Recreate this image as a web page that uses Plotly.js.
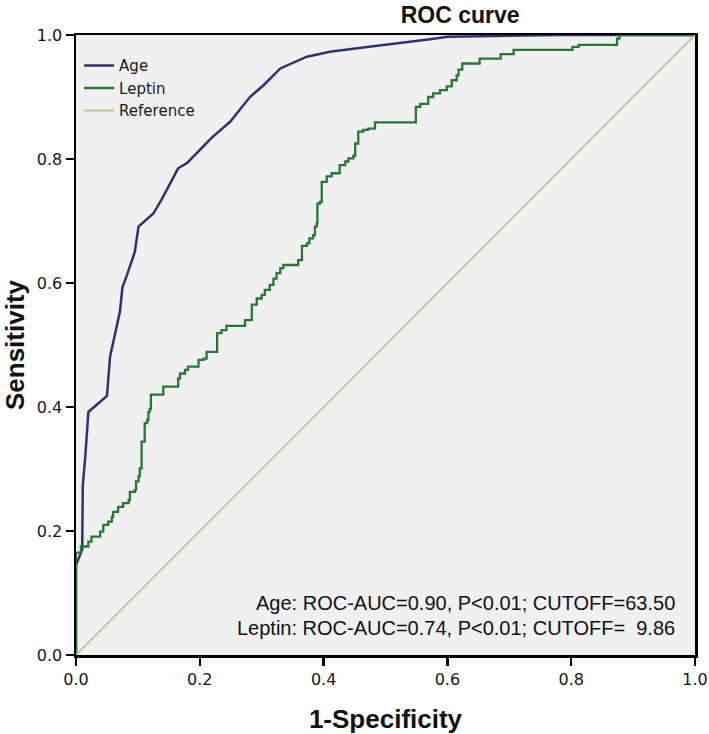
<!DOCTYPE html>
<html>
<head>
<meta charset="utf-8">
<script src="https://cdn.plot.ly/plotly-3.0.1.min.js"></script>
<style>html,body{margin:0;padding:0;background:#fff;}#chart{width:709px;height:734px;}</style>
</head>
<body>
<div id="chart"></div>
<script>
// Age ROC curve (1-Specificity, Sensitivity)
const ageX = [0, 0, 0.010, 0.011, 0.015, 0.020, 0.050, 0.055, 0.071, 0.075, 0.082, 0.095, 0.101, 0.125, 0.138, 0.165, 0.180, 0.219, 0.249, 0.281, 0.303, 0.330, 0.373, 0.410, 0.464, 0.518, 0.572, 0.600, 0.700, 0.780, 1.0];
const ageY = [0, 0.145, 0.170, 0.274, 0.320, 0.392, 0.418, 0.481, 0.554, 0.593, 0.612, 0.650, 0.691, 0.712, 0.734, 0.785, 0.794, 0.834, 0.860, 0.900, 0.919, 0.946, 0.965, 0.973, 0.980, 0.986, 0.993, 0.997, 0.998, 1.0, 1.0];

// Leptin ROC curve (step points: x of riser, y at top of riser)
const leptinX = [0, 0, 0.008, 0.020, 0.025, 0.039, 0.044, 0.052, 0.058, 0.060, 0.068, 0.076, 0.085, 0.087, 0.095, 0.097, 0.101, 0.103, 0.106, 0.111, 0.115, 0.117, 0.119, 0.121, 0.141, 0.165, 0.168, 0.176, 0.181, 0.198, 0.206, 0.211, 0.228, 0.235, 0.243, 0.273, 0.284, 0.292, 0.300, 0.305, 0.313, 0.319, 0.324, 0.330, 0.335, 0.359, 0.365, 0.373, 0.377, 0.383, 0.386, 0.389, 0.390, 0.394, 0.397, 0.405, 0.413, 0.426, 0.435, 0.440, 0.448, 0.451, 0.456, 0.464, 0.472, 0.483, 0.549, 0.556, 0.569, 0.577, 0.588, 0.599, 0.607, 0.615, 0.618, 0.624, 0.652, 0.686, 0.707, 0.802, 0.812, 0.874, 0.878, 1.0];
const leptinY = [0, 0.165, 0.175, 0.183, 0.191, 0.199, 0.210, 0.215, 0.223, 0.231, 0.239, 0.245, 0.250, 0.263, 0.266, 0.280, 0.288, 0.301, 0.344, 0.374, 0.379, 0.392, 0.397, 0.420, 0.433, 0.446, 0.454, 0.460, 0.465, 0.476, 0.478, 0.489, 0.519, 0.524, 0.531, 0.540, 0.565, 0.575, 0.581, 0.589, 0.597, 0.607, 0.616, 0.624, 0.629, 0.637, 0.660, 0.664, 0.672, 0.677, 0.691, 0.696, 0.728, 0.731, 0.763, 0.772, 0.777, 0.790, 0.796, 0.801, 0.805, 0.825, 0.844, 0.847, 0.849, 0.859, 0.884, 0.889, 0.900, 0.906, 0.911, 0.917, 0.927, 0.935, 0.944, 0.954, 0.962, 0.969, 0.976, 0.981, 0.984, 0.994, 1.0, 1.0];

// Reference diagonal
const refX = [0, 1];
const refY = [0, 1];

const seriesNames = ["Age", "Leptin", "Reference"];
const tickVals = [0, 0.2, 0.4, 0.6, 0.8, 1.0];
const tickText = ["0.0", "0.2", "0.4", "0.6", "0.8", "1.0"];
const statLines = [
  "Age: ROC-AUC=0.90, P<0.01; CUTOFF=63.50",
  "Leptin: ROC-AUC=0.74, P<0.01; CUTOFF=\u00a0\u00a09.86"
];

const traces = [
  {x: ageX, y: ageY, name: seriesNames[0], mode: "lines", type: "scatter",
   line: {color: "#2a3570", width: 2.5}},
  {x: leptinX, y: leptinY, name: seriesNames[1], mode: "lines", type: "scatter",
   line: {color: "#267832", width: 2.3, shape: "hv"}},
  {x: refX, y: refY, name: seriesNames[2], mode: "lines", type: "scatter",
   line: {color: "#c3c19c", width: 1.8}}
];

const axisCommon = {
  range: [0, 1], tickvals: tickVals, ticktext: tickText,
  showgrid: false, zeroline: false, showline: true, mirror: true,
  linecolor: "#000", linewidth: 2.5, ticks: "outside", ticklen: 8,
  tickwidth: 2.5, tickcolor: "#000",
  tickfont: {family: "DejaVu Sans", size: 16, color: "#161616"}
};

const layout = {
  width: 709, height: 734,
  margin: {l: 76, r: 14, t: 35, b: 79},
  paper_bgcolor: "#ffffff", plot_bgcolor: "#f0f0f0",
  title: {text: "<b>ROC curve</b>", xref: "container", x: 0.649, xanchor: "center",
          yref: "container", y: 0.98, yanchor: "middle",
          font: {family: "Liberation Sans", size: 23, color: "#111"}},
  xaxis: Object.assign({}, axisCommon, {
    title: {text: "<b>1-Specificity</b>", standoff: 22,
            font: {family: "Liberation Sans", size: 26, color: "#111"}}
  }),
  yaxis: Object.assign({}, axisCommon, {
    title: {text: "<b>Sensitivity</b>", standoff: 12,
            font: {family: "Liberation Sans", size: 26, color: "#111"}}
  }),
  showlegend: true,
  legend: {x: 0.005, y: 0.977, xanchor: "left", yanchor: "top",
           bgcolor: "rgba(0,0,0,0)", borderwidth: 0,
           font: {family: "DejaVu Sans", size: 15, color: "#1a1a1a"},
           tracegroupgap: 0},
  annotations: [
    {text: statLines[0], xref: "paper", yref: "paper", x: 0.971, y: 0.084,
     xanchor: "right", yanchor: "middle", showarrow: false,
     font: {family: "Liberation Sans", size: 20, color: "#111"}},
    {text: statLines[1], xref: "paper", yref: "paper", x: 0.971, y: 0.044,
     xanchor: "right", yanchor: "middle", showarrow: false,
     font: {family: "Liberation Sans", size: 20, color: "#111"}}
  ]
};

Plotly.newPlot("chart", traces, layout, {displayModeBar: false, staticPlot: true});
</script>
</body>
</html>
